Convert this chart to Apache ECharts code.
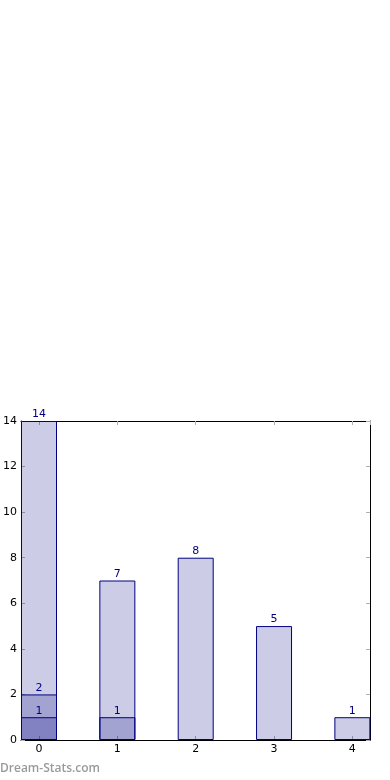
<!DOCTYPE html>
<html>
<head>
<meta charset="utf-8">
<script src="https://cdn.jsdelivr.net/npm/echarts@6/dist/echarts.min.js"></script>
<style>
html,body{margin:0;padding:0;background:#fff;}
#chart{width:390px;height:780px;}
</style>
</head>
<body>
<div id="chart"></div>
<script>
var categories = [0, 1, 2, 3, 4];
var totalValues = [14, 7, 8, 5, 1];
var midValues = [2, 1, null, null, null];
var lowValues = [1, null, null, null, null];
var yTicks = [0, 2, 4, 6, 8, 10, 12, 14];

function pairs(vals) {
  return categories.map(function (c, i) { return [c, vals[i]]; }).filter(function (p) { return p[1] != null; });
}

var chart = echarts.init(document.getElementById('chart'), null, {renderer: 'canvas'});
var fontFam = 'DejaVu Sans, sans-serif';
var tickStyle = {show: true, inside: true, length: 4, lineStyle: {color: '#b0b0b0', width: 1}};
var lineStyle = {show: true, onZero: false, lineStyle: {color: '#000', width: 1}};

function barSeries(vals, z) {
  return {
    type: 'bar',
    data: pairs(vals),
    barWidth: 36,
    barGap: '-100%',
    z: z,
    itemStyle: {color: 'rgba(0,0,128,0.2)', borderColor: '#000080', borderWidth: 1},
    label: {show: true, position: 'top', distance: 1, color: '#000080', fontSize: 11, fontFamily: fontFam},
    animation: false
  };
}

chart.setOption({
  backgroundColor: '#fff',
  animation: false,
  grid: {left: 18, right: 20, top: 421, bottom: 40, containLabel: false},
  xAxis: [{
    type: 'value', min: -0.23, max: 4.225, position: 'bottom',
    splitNumber: 4,
    axisLine: lineStyle, axisTick: tickStyle, splitLine: {show: false},
    axisLabel: {
      color: '#000', fontSize: 11, fontFamily: fontFam, margin: 4,
      showMinLabel: false, showMaxLabel: false,
      formatter: function (v) { return categories.indexOf(v) >= 0 ? String(v) : ''; }
    }
  }, {
    type: 'value', min: -0.23, max: 4.225, position: 'top',
    splitNumber: 4,
    axisLine: lineStyle, axisTick: tickStyle, splitLine: {show: false},
    axisLabel: {show: false}
  }],
  yAxis: [{
    type: 'value', min: yTicks[0], max: yTicks[yTicks.length - 1], interval: 2, position: 'left',
    axisLine: lineStyle, axisTick: tickStyle, splitLine: {show: false},
    axisLabel: {color: '#000', fontSize: 11, fontFamily: fontFam, margin: 4}
  }, {
    type: 'value', min: yTicks[0], max: yTicks[yTicks.length - 1], interval: 2, position: 'right',
    axisLine: lineStyle, axisTick: tickStyle, splitLine: {show: false},
    axisLabel: {show: false}
  }],
  series: [barSeries(totalValues, 2), barSeries(midValues, 3), barSeries(lowValues, 4)],
  graphic: [{
    type: 'text', left: 0, top: 763,
    style: {text: 'Dream-Stats.com', fill: '#9a9a9a', font: '600 12px "Open Sans", sans-serif'}
  }]
});
</script>
</body>
</html>
